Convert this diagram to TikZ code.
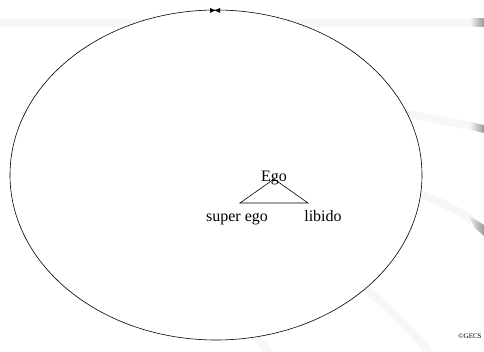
\documentclass[tikz,border=0pt]{standalone}
\usepackage{fontspec}
\setmainfont{Liberation Serif}

\tikzstyle{word} = [font=\fontsize{16}{18}\selectfont, anchor=base, inner sep=0pt]
\tikzstyle{band} = [line width=8pt, draw=black!3]
\tikzstyle{bandend} = [left color=black!4, right color=black!40]
\tikzstyle{tip} = [fill=black]

\begin{document}
\begin{tikzpicture}[x=1pt,y=-1pt]
\useasboundingbox (0,0) rectangle (484,352);
%achtergrond
\draw[band] (0,23) -- (470,23);
\shade[bandend] (470,19) rectangle (484,27);
\draw[band] (300,93) -- (470,126);
\shade[bandend] (470,122) -- (484,125) -- (484,133) -- (470,130) -- cycle;
\draw[band] (330,168) .. controls (410,188) and (450,203) .. (472,221);
\shade[bandend] (468,215) -- (484,225) -- (484,236) -- (475,228) -- cycle;
\draw[band] (340,265) .. controls (380,300) and (405,325) .. (430,352);
\draw[band] (240,320) -- (270,352);
%ellips
\draw[fill=white, line width=0.6pt] (216,175) ellipse [x radius=206, y radius=165];
\fill[tip] (210,8) -- (215,10.5) -- (210,13) -- cycle;
\fill[tip] (220,8) -- (215,10.5) -- (220,13) -- cycle;
%driehoek
\coordinate (top) at (274,179);
\coordinate (links) at (240,203);
\coordinate (rechts) at (308,203);
\draw[line width=0.6pt] (top) -- (links) -- (rechts) -- cycle;
\node[word] (ego) at (274,182) {Ego};
\node[word] (superego) at (237,222) {super ego};
\node[word] (libido) at (323,222) {libido};
%copyright
\node[font=\fontsize{7}{8}\selectfont, inner sep=0pt] (gecs) at (470,336) {©GECS};
\end{tikzpicture}
\end{document}
